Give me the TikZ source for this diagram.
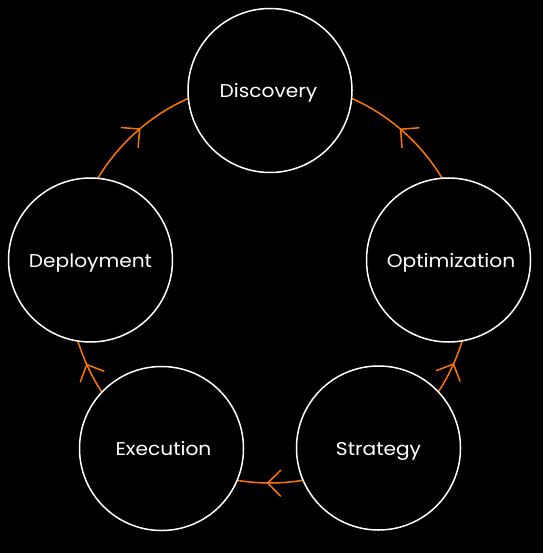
\documentclass[tikz,border=0pt]{standalone}
\usepackage{fontspec}
\setmainfont{Poppins}[FakeStretch=1.09]
\usetikzlibrary{decorations.markings}
\definecolor{flow}{RGB}{250,118,0}
\tikzset{
  stage/.style={circle, draw=white, line width=1.5pt, fill=black, minimum size=164pt, inner sep=0pt},
  stagetext/.style={text=white, anchor=base, inner sep=0pt, font=\fontsize{18.5}{22}\selectfont},
  cycle/.style={draw=flow, line width=1.5pt, postaction={decorate},
    decoration={markings, mark=at position 0.53 with {\draw[flow, line width=1.5pt, line cap=round, line join=miter] (-13pt,13pt) -- (0pt,0pt) -- (-13pt,-13pt);}}}
}
\begin{document}
\begin{tikzpicture}[x=1pt,y=-1pt]
\useasboundingbox (0,0) rectangle (543,553);
\fill[black] (0,0) rectangle (543,553);
\coordinate (hub) at (270,282);
% connectors on the hub circle
\draw[cycle] (hub) ++(209:201) arc[start angle=209, end angle=247.8, radius=201];
\draw[cycle] (hub) ++(331.2:201) arc[start angle=331.2, end angle=292.2, radius=201];
\draw[cycle] (hub) ++(33.9:201) arc[start angle=33.9, end angle=15.4, radius=201];
\draw[cycle] (hub) ++(78.9:201) arc[start angle=78.9, end angle=101.1, radius=201];
\draw[cycle] (hub) ++(145.6:201) arc[start angle=145.6, end angle=164.7, radius=201];
% stages
\node[stage] (disc) at (270,90.5) {};
\node[stage] (opt) at (448.5,260) {};
\node[stage] (strat) at (378.5,448) {};
\node[stage] (exec) at (161.5,448.5) {};
\node[stage] (depl) at (90.5,260) {};
\node[stagetext] (tdisc) at (268.5,97.5) {Discovery};
\node[stagetext] (topt) at (451,267.5) {Optimization};
\node[stagetext] (tstrat) at (378.5,455) {Strategy};
\node[stagetext] (texec) at (163.5,455.5) {Execution};
\node[stagetext] (tdepl) at (90.5,267.5) {Deployment};
\end{tikzpicture}
\end{document}
